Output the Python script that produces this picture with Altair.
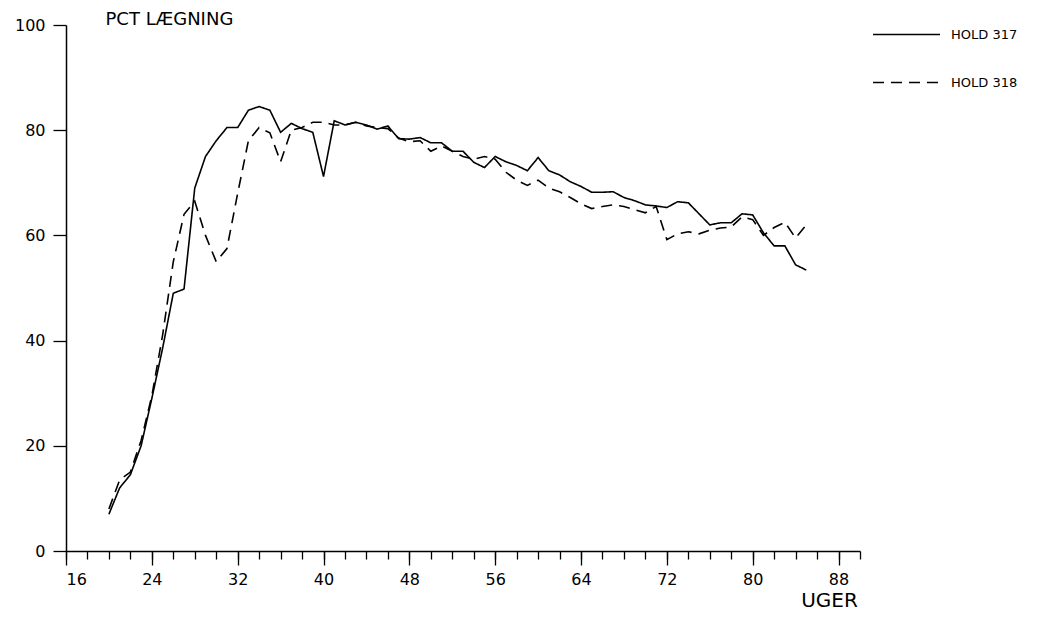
import altair as alt
import pandas as pd

weeks = [20, 21, 22, 23, 24, 25, 26, 27, 28, 29, 30, 31, 32, 33, 34, 35, 36, 37, 38, 39,
         40, 41, 42, 43, 44, 45, 46, 47, 48, 49, 50, 51, 52, 53, 54, 55, 56, 57, 58, 59,
         60, 61, 62, 63, 64, 65, 66, 67, 68, 69, 70, 71, 72, 73, 74, 75, 76, 77, 78, 79,
         80, 81, 82, 83, 84, 85]

hold317 = [7, 12, 14.5, 20, 29, 38.5, 49, 49.8, 69, 75, 78, 80.5, 80.5, 83.8, 84.5, 83.8,
           79.6, 81.3, 80.3, 79.6, 71.2, 81.8, 81, 81.5, 81, 80.2, 80.8, 78.4, 78.3, 78.6,
           77.6, 77.6, 76, 76, 73.9, 72.9, 75, 74, 73.3, 72.3, 74.8, 72.3, 71.5, 70.2, 69.3,
           68.2, 68.2, 68.3, 67.2, 66.6, 65.8, 65.6, 65.3, 66.4, 66.2, 64.1, 62, 62.4, 62.4,
           64.1, 63.9, 60.5, 58, 58, 54.4, 53.4]

hold318 = [8, 13.5, 15, 21, 29.5, 41, 55, 64, 66.5, 60, 55, 57.5, 68, 78, 80.5, 79.5,
           74, 80, 80.5, 81.5, 81.5, 81, 81, 81.5, 80.8, 80.5, 80.3, 78.5, 77.8, 78,
           76, 77, 76, 75, 74.5, 75, 74.5, 72, 70.5, 69.5, 70.5, 69, 68.3, 67.2, 66,
           65.1, 65.5, 65.8, 65.5, 64.9, 64.3, 65.5, 59.2, 60.3, 60.7, 60.3, 61, 61.4, 61.6,
           63.5, 63, 60, 61.5, 62.5, 59.5, 62]

series_names = ["HOLD 317", "HOLD 318"]
major_ticks = [16, 24, 32, 40, 48, 56, 64, 72, 80, 88]
minor_ticks = list(range(16, 91, 2))
y_ticks = [0, 20, 40, 60, 80, 100]

df = pd.concat([
    pd.DataFrame({"uge": weeks, "pct": hold317, "hold": series_names[0]}),
    pd.DataFrame({"uge": weeks, "pct": hold318, "hold": series_names[1]}),
])

FONT = "DejaVu Sans"

xscale = alt.Scale(domain=[16, 90], nice=False, zero=False)
yscale = alt.Scale(domain=[0, 100], nice=False)

dash = alt.StrokeDash(
    "hold:N",
    scale=alt.Scale(domain=series_names, range=[[1, 0], [11, 7]]),
    legend=alt.Legend(
        title=None, orient="none", legendX=806, legendY=-25,
        symbolType="stroke", symbolSize=4489, symbolStrokeWidth=1.4,
        symbolStrokeColor="black", labelFont=FONT, labelFontSize=13,
        labelColor="black", labelOffset=10, rowPadding=6,
    ),
)

lines = alt.Chart(df).mark_line(color="black", strokeWidth=1.6).encode(
    x=alt.X("uge:Q", scale=xscale,
            axis=alt.Axis(orient="bottom", values=major_ticks, tickSize=14,
                          labelPadding=6, title="UGER", titleX=763, titleY=49,
                          titleAlign="center", titleBaseline="middle",
                          titleFontSize=20, titleFont=FONT, titleFontWeight="normal")),
    y=alt.Y("pct:Q", scale=yscale,
            axis=alt.Axis(values=y_ticks, tickSize=13, labelPadding=8,
                          title="PCT LÆGNING", titleAngle=0, titleAlign="left",
                          titleBaseline="middle", titleX=39, titleY=-6,
                          titleFontSize=18, titleFont=FONT, titleFontWeight="normal")),
    strokeDash=dash,
    detail="hold:N",
)

minor = alt.Chart(df).mark_line(opacity=0).encode(
    x=alt.X("uge:Q", scale=xscale,
            axis=alt.Axis(orient="bottom", values=minor_ticks, tickSize=8,
                          labels=False, domain=False, title=None)),
    y=alt.Y("pct:Q", scale=yscale),
    detail="hold:N",
)

chart = alt.layer(lines, minor).resolve_axis(x="independent").properties(
    width=794, height=526,
    autosize=alt.AutoSizeParams(type="none"),
    padding={"left": 58, "top": 17, "right": 183, "bottom": 70},
).configure_view(stroke=None).configure_axis(
    grid=False, domainColor="black", tickColor="black", labelColor="black",
    titleColor="black", domainWidth=1.5, tickWidth=1.3,
    labelFont=FONT, labelFontSize=16,
)

chart.save("out.html", embed_options={"renderer": "svg", "actions": False})
